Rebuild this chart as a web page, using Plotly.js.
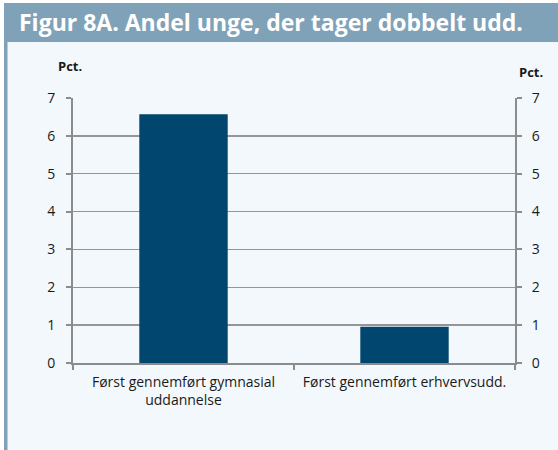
<!DOCTYPE html>
<html>
<head>
<meta charset="utf-8">
<script src="https://cdn.plot.ly/plotly-3.0.1.min.js"></script>
<style>html,body{margin:0;padding:0;background:#fff;}#chart{width:558px;height:450px;}</style>
</head>
<body>
<div id="chart"></div>
<script>
const categories = ["Først gennemført gymnasial<br>uddannelse", "Først gennemført erhvervsudd."];
const values = [6.57, 0.96];
const yTicks = [0, 1, 2, 3, 4, 5, 6, 7];

const W = 558, H = 450;
const mL = 73, mR = 43, mT = 98, mB = 87;
const pw = W - mL - mR, ph = H - mT - mB;
const px = x => (x - mL) / pw;
const py = y => (H - mB - y) / ph;

const barColor = "#00466e";
const frameColor = "#7fa2b9";
const panelBg = "#f3f8fc";
const gridColor = "#959595";
const font = "Open Sans, Noto Sans, sans-serif";

const traces = [
  {type: "bar", x: categories, y: values, marker: {color: barColor}, hoverinfo: "none", yaxis: "y"},
  {type: "scatter", mode: "lines", x: categories, y: values, line: {color: "rgba(0,0,0,0)"}, yaxis: "y2", hoverinfo: "none", showlegend: false}
];

const layout = {
  width: W, height: H,
  margin: {l: mL, r: mR, t: mT, b: mB, pad: 0},
  paper_bgcolor: "#ffffff",
  plot_bgcolor: "rgba(0,0,0,0)",
  showlegend: false,
  bargap: 0.6,
  font: {family: font, size: 14, color: "#1a1a1a"},
  title: {
    text: "<b>Figur 8A. Andel unge, der tager dobbelt udd.</b>",
    font: {family: font, size: 23, color: "#ffffff"},
    x: 19 / W, xanchor: "left", xref: "container",
    y: 1 - 23 / H, yanchor: "middle", yref: "container"
  },
  xaxis: {
    type: "category",
    showline: true, linecolor: "#8c8c8c", linewidth: 2,
    ticks: "outside", tickson: "boundaries", ticklen: 5, tickcolor: "#8c8c8c", tickwidth: 2,
    ticklabelstandoff: 5,
    showgrid: false, zeroline: false,
    tickfont: {family: font, size: 14, color: "#1a1a1a"}
  },
  yaxis: {
    range: [0, 7], tickvals: yTicks, ticktext: yTicks.map(String),
    showline: true, linecolor: "#8c8c8c", linewidth: 2,
    ticks: "outside", ticklen: 5, tickcolor: "#8c8c8c", tickwidth: 2,
    ticklabelstandoff: 8,
    showgrid: true, gridcolor: gridColor, gridwidth: 1.5, zeroline: false,
    tickfont: {family: font, size: 14, color: "#1a1a1a"}
  },
  yaxis2: {
    range: [0, 7], tickvals: yTicks, ticktext: yTicks.map(String),
    overlaying: "y", side: "right",
    showline: true, linecolor: "#8c8c8c", linewidth: 2,
    ticks: "outside", ticklen: 5, tickcolor: "#8c8c8c", tickwidth: 2,
    ticklabelstandoff: 7,
    showgrid: false, zeroline: false,
    tickfont: {family: font, size: 14, color: "#1a1a1a"}
  },
  shapes: [
    {type: "rect", xref: "paper", yref: "paper", x0: px(4), x1: px(W), y0: py(H), y1: py(3), fillcolor: panelBg, line: {width: 0}, layer: "below"},
    {type: "rect", xref: "paper", yref: "paper", x0: px(4), x1: px(W), y0: py(42), y1: py(3), fillcolor: frameColor, line: {width: 0}, layer: "below"},
    {type: "rect", xref: "paper", yref: "paper", x0: px(4), x1: px(7.5), y0: py(H), y1: py(3), fillcolor: frameColor, line: {width: 0}, layer: "below"}
  ],
  annotations: [
    {text: "<b>Pct.</b>", xref: "paper", yref: "paper", x: px(70), y: py(66), xanchor: "center", yanchor: "middle", showarrow: false, font: {family: font, size: 13, color: "#1a1a1a"}},
    {text: "<b>Pct.</b>", xref: "paper", yref: "paper", x: px(531), y: py(72), xanchor: "center", yanchor: "middle", showarrow: false, font: {family: font, size: 13, color: "#1a1a1a"}}
  ]
};

Plotly.newPlot("chart", traces, layout, {displayModeBar: false, staticPlot: true});
</script>
</body>
</html>
